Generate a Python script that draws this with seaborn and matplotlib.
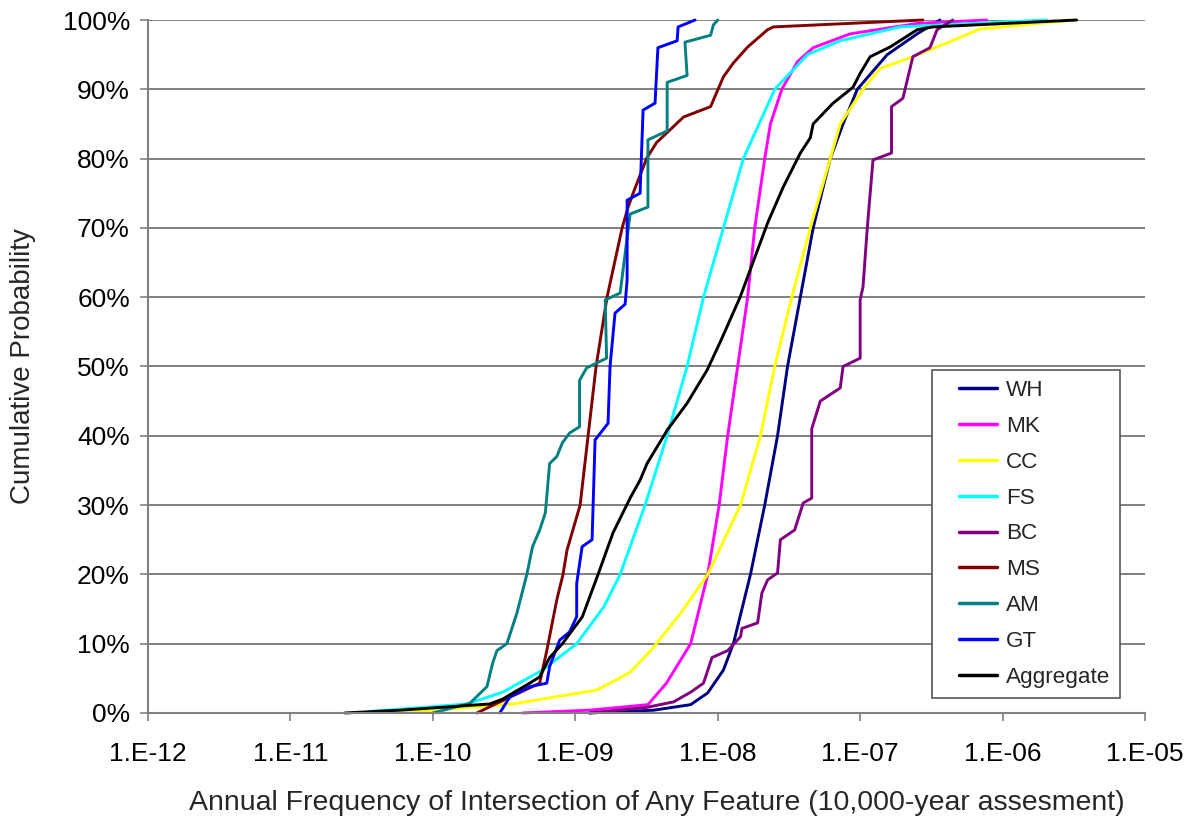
import numpy as np
import pandas as pd
import matplotlib
matplotlib.use("Agg")
import matplotlib.pyplot as plt
import matplotlib.ticker as mtick
from matplotlib.lines import Line2D
from matplotlib.legend_handler import HandlerLine2D
import seaborn as sns

# Curves: x as log10(annual frequency), y as cumulative %
WH_LOGX = [-8.90, -8.45, -8.19, -8.07, -7.96, -7.89, -7.77, -7.67, -7.58, -7.51,
           -7.42, -7.33, -7.21, -7.12, -7.02, -6.81, -6.60, -6.44]
WH_PCT = [0, 0.4, 1.2, 2.9, 6.2, 10, 20, 30, 40, 50, 60, 70, 80, 85, 90, 95, 98, 100]

MK_LOGX = [-9.37, -8.90, -8.49, -8.36, -8.19, -8.07, -7.99, -7.93, -7.86, -7.79,
           -7.74, -7.67, -7.63, -7.55, -7.44, -7.33, -7.07, -6.60, -6.11]
MK_PCT = [0, 0.4, 1.2, 4.3, 10, 20, 30, 40, 50, 60, 70, 80, 85, 90, 94, 96, 98, 99.5, 100]

CC_LOGX = [-10.24, -9.44, -8.85, -8.62, -8.47, -8.26, -8.07, -7.84, -7.70, -7.60,
           -7.48, -7.35, -7.21, -7.14, -6.98, -6.86, -6.63, -6.39, -6.16, -5.49]
CC_PCT = [0, 1.3, 3.3, 5.8, 9, 14.4, 20, 30, 40, 50, 60, 70, 80, 85, 90, 93, 94.7,
          96.7, 98.7, 100]

FS_LOGX = [-10.45, -9.76, -9.51, -9.23, -8.99, -8.80, -8.685, -8.51, -8.355, -8.215,
           -8.10, -7.96, -7.82, -7.60, -7.37, -7.14, -6.72, -5.69]
FS_PCT = [0.2, 1.3, 3, 6.2, 10, 15.3, 20, 30, 40, 50, 60, 70, 80, 90, 95, 97, 99, 100]

BC_LOGX = [-8.90, -8.50, -8.31, -8.19, -8.10, -8.04, -7.93, -7.84, -7.83, -7.72,
           -7.69, -7.65, -7.58, -7.56, -7.46, -7.40, -7.34, -7.34, -7.28, -7.14,
           -7.12, -7.00, -7.00, -6.98, -6.95, -6.91, -6.78, -6.78, -6.70, -6.63,
           -6.51, -6.46, -6.35]
BC_PCT = [0, 0.8, 1.6, 3, 4.3, 8, 9, 11, 12.2, 13, 17.3, 19.2, 20.2, 25, 26.4, 30.3,
          31, 41, 45, 46.9, 50, 51.2, 59.6, 61.5, 70, 79.8, 80.8, 87.5, 88.7, 94.7,
          96, 98.6, 100]

MS_LOGX = [-9.69, -9.55, -9.25, -9.20, -9.13, -9.086, -9.058, -8.966, -8.91, -8.854,
           -8.777, -8.671, -8.629, -8.594, -8.50, -8.43, -8.24, -8.05, -7.96, -7.89,
           -7.79, -7.65, -7.61, -6.56]
MS_PCT = [0, 1.4, 4.3, 9, 16.3, 20, 23.5, 30, 40, 50, 60, 70, 73, 75, 80, 82.3, 86,
          87.5, 91.8, 93.8, 96.1, 98.6, 99, 100]

AM_LOGX = [-10.00, -9.74, -9.62, -9.58, -9.55, -9.48, -9.41, -9.34, -9.30, -9.25,
           -9.21, -9.18, -9.13, -9.09, -9.04, -8.97, -8.97, -8.92, -8.78, -8.79,
           -8.685, -8.615, -8.49, -8.49, -8.355, -8.355, -8.215, -8.23, -8.05, -8.03,
           -8.00]
AM_PCT = [0, 1.4, 3.8, 7.2, 9, 10, 14.4, 20, 24, 26.4, 28.9, 36, 37, 39, 40.4, 41.3,
          48, 49.8, 51.2, 59.6, 60.6, 72, 73, 82.7, 84, 91, 92, 96.8, 97.8, 99.3, 100]

GT_LOGX = [-9.53, -9.46, -9.32, -9.20, -9.18, -9.11, -9.04, -8.99, -8.99, -8.952,
           -8.882, -8.861, -8.77, -8.756, -8.721, -8.65, -8.636, -8.636, -8.545,
           -8.524, -8.44, -8.42, -8.285, -8.278, -8.159]
GT_PCT = [0, 2.3, 3.8, 4.3, 6.7, 10.5, 11.7, 13.9, 18.7, 24, 25, 39.4, 41.8, 50, 57.7,
          59, 62.5, 74, 75, 87, 88, 96, 97, 99, 100]

AGG_LOGX = [-10.617, -10.23, -9.60, -9.51, -9.32, -9.25, -9.18, -9.09, -8.95, -8.84,
            -8.735, -8.615, -8.545, -8.496, -8.355, -8.215, -8.074, -7.983, -7.843,
            -7.65, -7.54, -7.42, -7.35, -7.33, -7.19, -7.05, -7.00, -6.93, -6.79,
            -6.60, -6.49, -5.48]
AGG_PCT = [0, 0.4, 1.3, 2, 4.3, 5.2, 8, 10, 13.9, 20, 26, 31, 33.6, 36, 40.8, 44.7,
           49.5, 53.5, 60, 70.7, 75.9, 80.8, 83, 85, 88, 90.3, 92.3, 94.7, 96.1, 98.6,
           99, 100]

SERIES = ["WH", "MK", "CC", "FS", "BC", "MS", "AM", "GT", "Aggregate"]
COLORS = ["#000080", "#FF00FF", "#FFFF00", "#00FFFF", "#800080",
          "#800000", "#008080", "#0000FF", "#000000"]
X_TICK_LABELS = ["1.E-12", "1.E-11", "1.E-10", "1.E-09", "1.E-08",
                 "1.E-07", "1.E-06", "1.E-05"]

curves = {
    "WH": (WH_LOGX, WH_PCT), "MK": (MK_LOGX, MK_PCT), "CC": (CC_LOGX, CC_PCT),
    "FS": (FS_LOGX, FS_PCT), "BC": (BC_LOGX, BC_PCT), "MS": (MS_LOGX, MS_PCT),
    "AM": (AM_LOGX, AM_PCT), "GT": (GT_LOGX, GT_PCT),
    "Aggregate": (AGG_LOGX, AGG_PCT),
}

frames = []
for name in SERIES:
    lx, pct = curves[name]
    frames.append(pd.DataFrame({"freq": np.power(10.0, lx), "cum": pct, "site": name}))
df = pd.concat(frames, ignore_index=True)

sns.set_style("white")
plt.rcParams["font.family"] = ["Liberation Sans", "DejaVu Sans"]

fig = plt.figure(figsize=(11.97, 8.30), dpi=100)
ax = fig.add_axes([0.1236, 0.1410, 0.8330, 0.8349])

sns.lineplot(data=df, x="freq", y="cum", hue="site", hue_order=SERIES,
             palette=dict(zip(SERIES, COLORS)), sort=False, estimator=None,
             linewidth=2.1, ax=ax)
for ln in ax.lines:
    ln.set_clip_on(False)

ax.set_xscale("log")
ax.set_xlim(1e-12, 1e-5)
ax.set_ylim(0, 100)
ax.set_xticks([10.0 ** e for e in range(-12, -4)])
ax.set_xticklabels(X_TICK_LABELS)
ax.xaxis.set_minor_locator(mtick.NullLocator())
ax.set_yticks(range(0, 101, 10))
ax.yaxis.set_major_formatter(mtick.PercentFormatter(decimals=0))

ax.yaxis.grid(True, color="#6a6a6a", linewidth=1.2)
ax.xaxis.grid(False)
ax.set_axisbelow(True)
for side in ["top", "right"]:
    ax.spines[side].set_visible(False)
for side in ["left", "bottom"]:
    ax.spines[side].set_color("#808080")
    ax.spines[side].set_linewidth(1.5)

ax.tick_params(axis="both", which="major", direction="out", length=6,
               width=1.2, color="#808080", labelsize=19, labelcolor="black")
ax.tick_params(axis="x", pad=15, bottom=True)
ax.tick_params(axis="y", pad=7, left=True)

ax.set_xlabel("Annual Frequency of Intersection of Any Feature (10,000-year assesment)",
              fontsize=20.5)
ax.set_ylabel("Cumulative Probability", fontsize=20)
ax.xaxis.set_label_coords(0.51, -0.111)
ax.yaxis.set_label_coords(-0.112, 0.5)

handles, labels = ax.get_legend_handles_labels()
leg = ax.legend(handles, labels, loc="lower left", bbox_to_anchor=(0.786, 0.0216),
                fontsize=16.2, frameon=True, fancybox=False, framealpha=1,
                edgecolor="#555555", borderpad=0.45, labelspacing=0.66,
                handlelength=2.45, handletextpad=0.4, borderaxespad=0,
                handler_map={Line2D: HandlerLine2D(xpad=0.75)})
leg.get_frame().set_linewidth(1.2)
for h in leg.get_lines():
    h.set_linewidth(2.5)

fig.savefig("out.png", dpi=100, facecolor="white")
